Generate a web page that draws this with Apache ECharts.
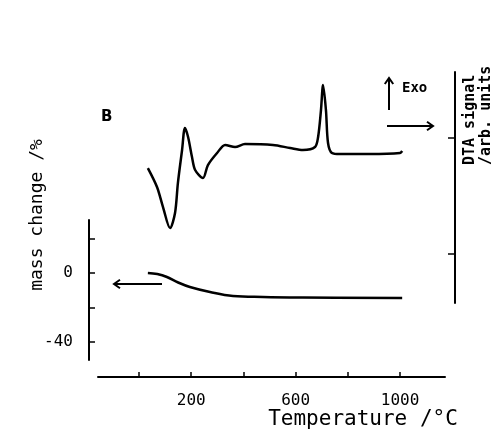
<!DOCTYPE html>
<html>
<head>
<meta charset="utf-8">
<script src="https://cdn.jsdelivr.net/npm/echarts@6/dist/echarts.min.js"></script>
<style>
html,body{margin:0;padding:0;background:#fff;}
#chart{width:499px;height:435px;}
</style>
</head>
<body>
<div id="chart"></div>
<script>
// ---- data ----
const tempDTA   = [34, 69, 92, 119, 138, 149, 165, 176, 188, 203, 215, 245, 264, 299, 330, 368, 406, 513, 579, 628, 674, 686, 697, 705, 716, 724, 739, 770, 885, 1000, 1008];
const dtaSignal = [0.741, 0.578, 0.405, 0.224, 0.353, 0.612, 0.897, 1.086, 1.009, 0.836, 0.724, 0.655, 0.767, 0.871, 0.940, 0.922, 0.948, 0.940, 0.914, 0.897, 0.922, 1.009, 1.241, 1.457, 1.241, 0.957, 0.871, 0.862, 0.862, 0.871, 0.888];
const tempMass   = [34, 70, 107, 150, 195, 272, 360, 475, 628, 1008];
const massChange = [0, -0.6, -2.3, -5.5, -8.1, -11.0, -13.3, -13.9, -14.2, -14.5];
const tempTicks  = [0, 200, 400, 600, 800, 1000];
const tempLabels = [200, 600, 1000];
const massTicks  = [20, 0, -20, -40];
const massLabels = [0, -40];
const dtaTicks   = [0, 1];

const FONT = 'DejaVu Sans Mono';
const chart = echarts.init(document.getElementById('chart'), null, {renderer: 'canvas'});

function zip(a, b) { return a.map((v, i) => [v, b[i]]); }

function chevron(x, y, dir) {
  const s = 6;
  let pts;
  if (dir === 'left') pts = [[x + s, y - s * 0.7], [x, y], [x + s, y + s * 0.7]];
  if (dir === 'right') pts = [[x - s, y - s * 0.7], [x, y], [x - s, y + s * 0.7]];
  if (dir === 'up') pts = [[x - s * 0.7, y + s], [x, y], [x + s * 0.7, y + s]];
  return {type: 'polyline', shape: {points: pts}, style: {stroke: '#000', lineWidth: 2, fill: null}};
}

const option = {
  backgroundColor: '#fff',
  animation: false,
  grid: [
    {left: 98, right: 54, top: 72, bottom: 132},
    {left: 98, right: 54, top: 220, bottom: 75}
  ],
  xAxis: [
    {gridIndex: 0, type: 'value', min: -157, max: 1172, show: false},
    {gridIndex: 1, type: 'value', min: -157, max: 1172, position: 'bottom', offset: 17,
     splitLine: {show: false},
     axisLine: {show: true, onZero: false, lineStyle: {color: '#000', width: 2}},
     axisTick: {show: true, inside: true, length: 5, customValues: tempTicks, lineStyle: {color: '#000', width: 1.5}},
     axisLabel: {show: true, customValues: tempLabels, margin: 16, color: '#000', fontFamily: FONT, fontSize: 16,
                 formatter: v => String(v)}}
  ],
  yAxis: [
    {gridIndex: 0, type: 'value', min: -0.422, max: 1.569, position: 'right', offset: 10,
     splitLine: {show: false},
     axisLine: {show: true, onZero: false, lineStyle: {color: '#000', width: 2}},
     axisTick: {show: true, inside: true, length: 7, customValues: dtaTicks, lineStyle: {color: '#000', width: 1.5}},
     axisLabel: {show: false}},
    {gridIndex: 1, type: 'value', min: -50.4, max: 30.7, position: 'left', offset: 9,
     splitLine: {show: false},
     axisLine: {show: true, onZero: false, lineStyle: {color: '#000', width: 2}},
     axisTick: {show: true, inside: true, length: 6, customValues: massTicks, lineStyle: {color: '#000', width: 1.5}},
     axisLabel: {show: true, customValues: massLabels, margin: 16, color: '#000', fontFamily: FONT, fontSize: 16,
                 formatter: v => String(v)}}
  ],
  series: [
    {type: 'line', xAxisIndex: 0, yAxisIndex: 0, data: zip(tempDTA, dtaSignal), showSymbol: false,
     smooth: 0.3, lineStyle: {color: '#000', width: 2.5}},
    {type: 'line', xAxisIndex: 1, yAxisIndex: 1, data: zip(tempMass, massChange), showSymbol: false,
     smooth: 0.4, lineStyle: {color: '#000', width: 2.5}}
  ],
  graphic: [
    {type: 'line', shape: {x1: 162, y1: 284, x2: 114, y2: 284}, style: {stroke: '#000', lineWidth: 2}},
    chevron(114, 284, 'left'),
    {type: 'line', shape: {x1: 387, y1: 126, x2: 433, y2: 126}, style: {stroke: '#000', lineWidth: 2}},
    chevron(433, 126, 'right'),
    {type: 'line', shape: {x1: 389, y1: 110, x2: 389, y2: 78}, style: {stroke: '#000', lineWidth: 2}},
    chevron(389, 78, 'up'),
    {type: 'text', left: 402, top: 81, style: {text: 'Exo', font: 'bold 14px "DejaVu Sans Mono"', fill: '#000'}},
    {type: 'text', left: 101, top: 110, style: {text: 'B', font: 'bold 15px "DejaVu Sans"', fill: '#000'}},
    {type: 'text', x: 37, y: 215, rotation: Math.PI / 2,
     style: {text: 'mass change /%', font: '18px "DejaVu Sans Mono"', fill: '#000', align: 'center', verticalAlign: 'middle'}},
    {type: 'text', x: 363, y: 420,
     style: {text: 'Temperature /°C', font: '21px "DejaVu Sans Mono"', fill: '#000', align: 'center', verticalAlign: 'middle'}},
    {type: 'text', x: 470, y: 165, rotation: Math.PI / 2,
     style: {text: 'DTA signal', font: 'bold 15px "DejaVu Sans Mono"', fill: '#000', align: 'left', verticalAlign: 'middle'}},
    {type: 'text', x: 486, y: 165, rotation: Math.PI / 2,
     style: {text: '/arb. units', font: 'bold 15px "DejaVu Sans Mono"', fill: '#000', align: 'left', verticalAlign: 'middle'}}
  ]
};
chart.setOption(option);
</script>
</body>
</html>
